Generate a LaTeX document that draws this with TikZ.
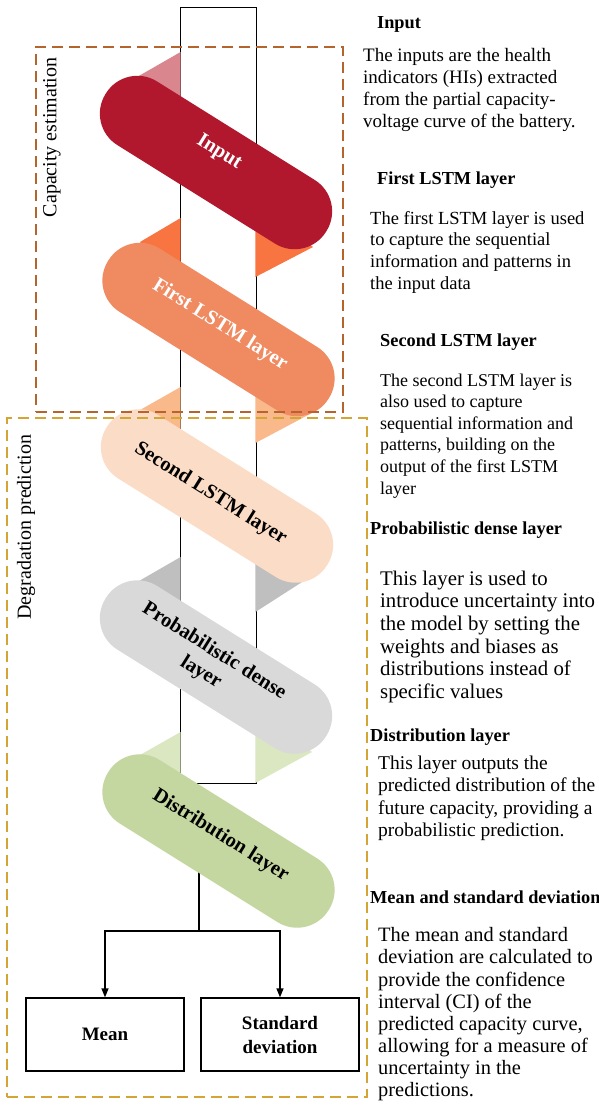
\documentclass[tikz,border=0pt]{standalone}
\usepackage{fontspec}
\setmainfont{Liberation Serif}
\usetikzlibrary{arrows.meta}
\definecolor{cRed}{HTML}{B1182D}
\definecolor{cRedT}{HTML}{D9868F}
\definecolor{cOr}{HTML}{EF8A61}
\definecolor{cOrT}{HTML}{F87440}
\definecolor{cPeach}{HTML}{FBDCC6}
\definecolor{cPeachT}{HTML}{F9B98B}
\definecolor{cGray}{HTML}{D9D9D9}
\definecolor{cGrayT}{HTML}{BFBFBF}
\definecolor{cGreen}{HTML}{C4D7A0}
\definecolor{cGreenT}{HTML}{DAE7C1}
\definecolor{cBrown}{HTML}{B5642B}
\definecolor{cGold}{HTML}{D4A535}
\begin{document}
\begin{tikzpicture}[x=1pt,y=-1pt,
  colbox/.style={draw=black,line width=1pt,fill=white,minimum width=76pt,minimum height=776pt,inner sep=0pt},
  pill/.style={rotate=-32,minimum width=260pt,minimum height=75pt,rounded corners=37pt,inner sep=0pt,draw=none},
  pilltxt/.style={rotate=-32,inner sep=0pt,align=center,font=\fontsize{20.5}{25}\selectfont\bfseries},
  head/.style={anchor=base west,inner sep=0pt,font=\fontsize{18.3}{22}\selectfont\bfseries},
  desc/.style={anchor=north west,inner sep=0pt,align=left},
  sidelab/.style={rotate=90,inner sep=0pt,font=\fontsize{20}{24}\selectfont},
  grpbox/.style={draw,line width=1.6pt,dash pattern=on 11pt off 6pt,inner sep=0pt},
  outbox/.style={draw=black,line width=1.3pt,minimum width=158pt,minimum height=73pt,inner sep=0pt,align=center,font=\fontsize{19}{24}\selectfont\bfseries},
  conn/.style={draw=black,line width=1.3pt},
  arr/.style={-{Triangle[length=9pt,width=7pt]}}
]
\useasboundingbox (0,0) rectangle (599,1117);
\fill[white] (0,0) rectangle (599,1117);

% central column
\node[colbox] (col) at (218,395) {};

% back triangles of the ribbon
\fill[cRedT] (180.6,52) -- (137,77) -- (175,120) -- (180.6,120) -- cycle;
\fill[cOrT] (180.6,218) -- (140,242) -- (175,290) -- (180.6,290) -- cycle;
\fill[cOrT] (255.4,200) -- (313,247) -- (255.4,277) -- cycle;
\fill[cPeachT] (180.6,387) -- (140,410) -- (175,458) -- (180.6,458) -- cycle;
\fill[cPeachT] (255.4,368) -- (310,414) -- (255.4,443) -- cycle;
\fill[cGrayT] (180.6,557) -- (139,581) -- (175,628) -- (180.6,628) -- cycle;
\fill[cGrayT] (255.4,540) -- (313,575) -- (255.4,612) -- cycle;
\fill[cGreenT] (180.6,732) -- (140,755) -- (175,800) -- (180.6,800) -- cycle;
\fill[cGreenT] (255.4,710) -- (312,752) -- (255.4,783) -- cycle;

% output connector start (hidden under the last pill)
\coordinate (d0) at (199,850);
\coordinate (split) at (199,931);
\draw[conn] (d0) -- (split);

% pills
\node[pill,fill=cRed] (p1) at (216,162.5) {};
\node[pill,fill=cOr] (p2) at (218.5,329.5) {};
\node[pill,fill=cPeach] (p3) at (217,496) {};
\node[pill,fill=cGray] (p4) at (216,667) {};
\node[pill,fill=cGreen] (p5) at (218.5,841) {};

\node[pilltxt,text=white] (t1) at (219,152.5) {Input};
\node[pilltxt,text=white] (t2) at (220,325) {First LSTM layer};
\node[pilltxt] (t3) at (210.5,494) {Second LSTM layer};
\node[pilltxt] (t4) at (207.5,662) {Probabilistic dense\\layer};
\node[pilltxt] (t5) at (220.5,835.5) {Distribution layer};

% outputs
\node[outbox] (mean) at (105,1034.5) {Mean};
\node[outbox] (std) at (280,1034.5) {Standard\\deviation};
\draw[conn,arr] (split) -| (mean.north);
\draw[conn,arr] (split) -| (std.north);

% group boxes
\node[grpbox,draw=cBrown,minimum width=307pt,minimum height=365pt] (capbox) at (189.5,229.5) {};
\node[grpbox,draw=cGold,minimum width=360pt,minimum height=679pt] (degbox) at (187,757.5) {};
\node[sidelab] (caplab) at (52,137.5) {Capacity estimation};
\node[sidelab] (deglab) at (26,527) {Degradation prediction};

% descriptions
\node[head] (h1) at (377,28) {Input};
\node[desc,font=\fontsize{19}{22}\selectfont] (b1) at (363,45.9) {\strut The inputs are the health\\indicators (HIs) extracted\\from the partial capacity-\\voltage curve of the battery.};
\node[head] (h2) at (377,184) {First LSTM layer};
\node[desc,font=\fontsize{18.5}{21.7}\selectfont] (b2) at (370,208.9) {\strut The first LSTM layer is used\\to capture the sequential\\information and patterns in\\the input data};
\node[head] (h3) at (380,346) {Second LSTM layer};
\node[desc,font=\fontsize{18}{21.6}\selectfont] (b3) at (380,370.8) {\strut The second LSTM layer is\\also used to capture\\sequential information and\\patterns, building on the\\output of the first LSTM\\layer};
\node[head] (h4) at (370,534) {Probabilistic dense layer};
\node[desc,font=\fontsize{20.8}{22.7}\selectfont] (b4) at (380,569) {\strut This layer is used to\\introduce uncertainty into\\the model by setting the\\weights and biases as\\distributions instead of\\specific values};
\node[head] (h5) at (370,741) {Distribution layer};
\node[desc,font=\fontsize{19.5}{22.3}\selectfont] (b5) at (378,753.8) {\strut This layer outputs the\\predicted distribution of the\\future capacity, providing a\\probabilistic prediction.};
\node[head] (h6) at (370,903) {Mean and standard deviation};
\node[desc,font=\fontsize{20.4}{22.1}\selectfont] (b6) at (378,926.2) {\strut The mean and standard\\deviation are calculated to\\provide the confidence\\interval (CI) of the\\predicted capacity curve,\\allowing for a measure of\\uncertainty in the\\predictions.};
\end{tikzpicture}
\end{document}
